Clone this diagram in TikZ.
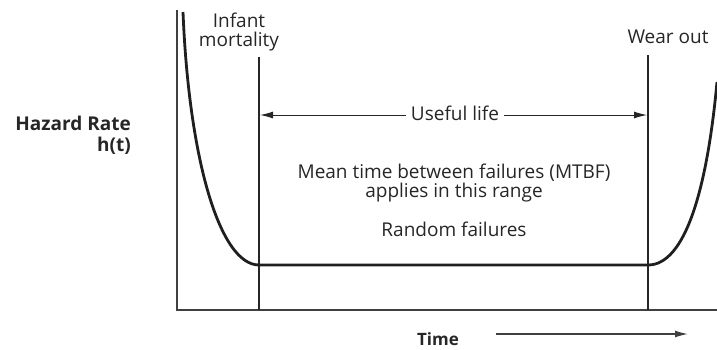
\documentclass[tikz,border=0pt]{standalone}
\usepackage{fontspec}
\setmainfont{Open Sans}
\usetikzlibrary{arrows.meta}
\begin{document}
\begin{tikzpicture}[x=1pt,y=-1pt,
  lbl/.style={font=\fontsize{19}{24}\selectfont, text=black!85, inner sep=0pt},
  blbl/.style={font=\fontsize{19}{24}\selectfont\bfseries, text=black!85, inner sep=0pt},
  axisline/.style={draw=black!75, line width=1.6pt},
  guide/.style={draw=black!85, line width=1.2pt},
  curve/.style={draw=black!88, line width=2.8pt},
  tip/.style={-{Latex[length=13pt,width=7pt]}}]
\useasboundingbox (0,0) rectangle (717,349);
% axes
\coordinate (ytop) at (177,10);
\coordinate (origin) at (177,310);
\coordinate (xend) at (717,310);
\draw[axisline] (ytop) -- (origin) -- (xend);
% guides
\coordinate (lgtop) at (259,57);
\coordinate (lgbot) at (259,310);
\coordinate (rgtop) at (648,55);
\coordinate (rgbot) at (648,310);
\draw[guide] (lgtop) -- (lgbot);
\draw[guide] (rgtop) -- (rgbot);
% curve
\coordinate (c0) at (183,12);
\coordinate (c1) at (259,265);
\coordinate (c2) at (648,265);
\coordinate (c3) at (717,82);
\draw[curve] (c0) .. controls (189,160) and (220,265) .. (c1) -- (c2)
  .. controls (685,265) and (707,190) .. (c3);
% useful life
\coordinate (ula) at (260,115);
\coordinate (ulb) at (647,115);
\draw[guide, line width=1pt, tip] (455,115) -- (ula);
\draw[guide, line width=1pt, tip] (455,115) -- (ulb);
\node[lbl, fill=white, inner xsep=5pt, inner ysep=2pt] (ul) at (455,113) {Useful life};
% labels
\node[lbl, anchor=base] (inf1) at (239,27) {Infant};
\node[lbl, anchor=base] (inf2) at (239,46) {mortality};
\node[lbl, anchor=base] (wear) at (668,43) {Wear out};
\node[blbl, anchor=base east] (hz1) at (131,130) {Hazard Rate};
\node[blbl, anchor=base east] (hz2) at (131,151) {h(t)};
\node[lbl, anchor=base] (m1) at (454,178) {Mean time between failures (MTBF)};
\node[lbl, anchor=base] (m2) at (454,197) {applies in this range};
\node[lbl, anchor=base] (m3) at (454,236) {Random failures};
% time
\node[blbl, anchor=base, font=\fontsize{17}{20}\selectfont\bfseries] (time) at (438,345) {Time};
\coordinate (ta) at (496,334);
\coordinate (tb) at (688,334);
\draw[axisline, line width=1.4pt, tip] (ta) -- (tb);
\end{tikzpicture}
\end{document}
